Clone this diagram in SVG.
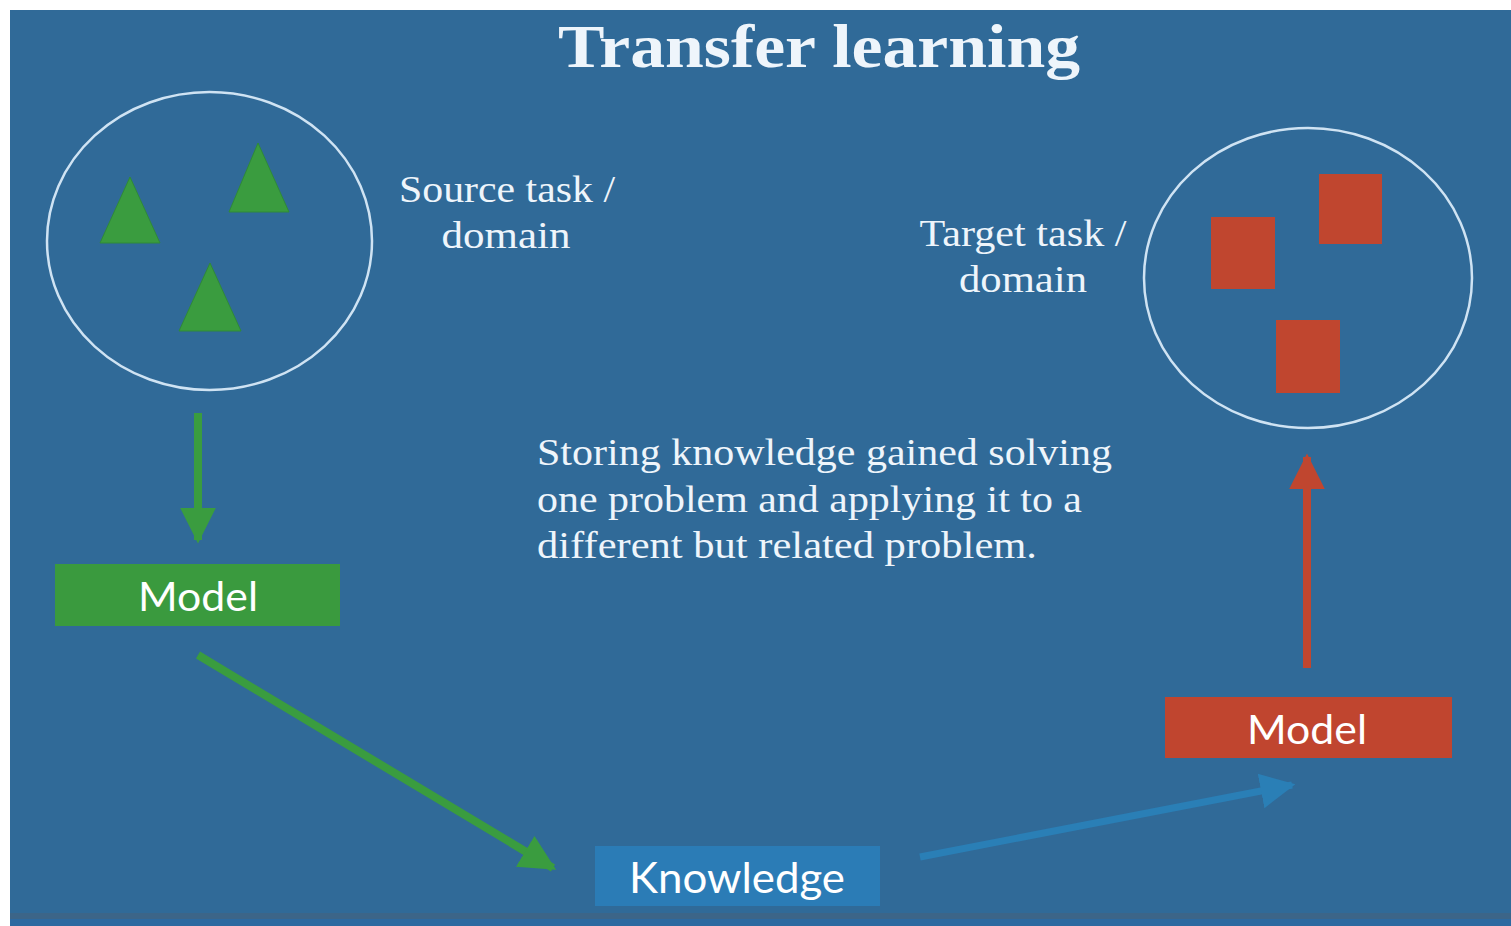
<svg xmlns="http://www.w3.org/2000/svg" width="1511" height="926" viewBox="0 0 1511 926">
<defs>
<style>
.serif{font-family:"Liberation Serif","DejaVu Serif",serif;fill:#eef5fb}
.sans{font-family:Lato,"Open Sans","Liberation Sans",sans-serif;fill:#ffffff}
.ring{fill:none;stroke:#cfe3f3;stroke-width:2.5}
.tri{fill:#3a9c3f;stroke:#2f8a38;stroke-width:1}
.sq{fill:#c0462f}
</style>
<marker id="hg" viewBox="0 0 10 10" refX="9" refY="5" markerWidth="4.5" markerHeight="5" orient="auto" markerUnits="strokeWidth"><path d="M0,0 L10,5 L0,10 Z" fill="#3a9c3f"/></marker>
<marker id="hr" viewBox="0 0 10 10" refX="9" refY="5" markerWidth="4.5" markerHeight="5" orient="auto" markerUnits="strokeWidth"><path d="M0,0 L10,5 L0,10 Z" fill="#c0462f"/></marker>
<marker id="hb" viewBox="0 0 10 10" refX="9" refY="5" markerWidth="5" markerHeight="5.5" orient="auto" markerUnits="strokeWidth"><path d="M0,0 L10,5 L0,10 Z" fill="#2a7fb6"/></marker>
</defs>
<rect x="0" y="0" width="1511" height="926" fill="#ffffff"/>
<rect x="10" y="10" width="1501" height="916" fill="#306a98"/>
<rect x="10" y="913" width="1501" height="6" fill="#3c6588"/>
<rect x="10" y="919" width="1501" height="7" fill="#2c69a0"/>

<g id="title"><text class="serif" x="819" y="67" font-size="62" font-weight="bold" text-anchor="middle" textLength="522" lengthAdjust="spacingAndGlyphs">Transfer learning</text></g>

<g id="source-domain">
<ellipse class="ring" cx="209.5" cy="241" rx="162.5" ry="149"/>
<polygon class="tri" points="130,177 160,243 100,243"/>
<polygon class="tri" points="258,143 289,212 229,212"/>
<polygon class="tri" points="210,263 241,331 179,331"/>
</g>
<g id="source-label">
<text class="serif" font-size="37" text-anchor="middle"><tspan x="507" y="202" textLength="216" lengthAdjust="spacingAndGlyphs">Source task /</tspan><tspan x="506" y="248" textLength="129" lengthAdjust="spacingAndGlyphs">domain</tspan></text>
</g>

<g id="target-domain">
<ellipse class="ring" cx="1308" cy="278" rx="164" ry="150"/>
<rect class="sq" x="1211" y="217" width="64" height="72"/>
<rect class="sq" x="1319" y="174" width="63" height="70"/>
<rect class="sq" x="1276" y="320" width="64" height="73"/>
</g>
<g id="target-label">
<text class="serif" font-size="37" text-anchor="middle"><tspan x="1023" y="246" textLength="207" lengthAdjust="spacingAndGlyphs">Target task /</tspan><tspan x="1023" y="292" textLength="128" lengthAdjust="spacingAndGlyphs">domain</tspan></text>
</g>

<g id="description">
<text class="serif" font-size="37"><tspan x="537" y="465" textLength="575" lengthAdjust="spacingAndGlyphs">Storing knowledge gained solving</tspan><tspan x="537" y="512" textLength="545" lengthAdjust="spacingAndGlyphs">one problem and applying it to a</tspan><tspan x="537" y="558" textLength="500" lengthAdjust="spacingAndGlyphs">different but related problem.</tspan></text>
</g>

<g id="source-model">
<rect x="55" y="564" width="285" height="62" fill="#3a9a3e"/>
<text class="sans" x="198" y="611" font-size="40" text-anchor="middle" textLength="120" lengthAdjust="spacingAndGlyphs">Model</text>
</g>

<g id="target-model">
<rect x="1165" y="697" width="287" height="61" fill="#c0452f"/>
<text class="sans" x="1307" y="744" font-size="40" text-anchor="middle" textLength="120" lengthAdjust="spacingAndGlyphs">Model</text>
</g>

<g id="knowledge">
<rect x="595" y="846" width="285" height="60" fill="#2b7cb6"/>
<text class="sans" x="737" y="893" font-size="42" text-anchor="middle" textLength="216" lengthAdjust="spacingAndGlyphs">Knowledge</text>
</g>

<g id="connectors" fill="none" stroke-linecap="butt">
<line x1="198" y1="413" x2="198" y2="540" stroke="#3a9c3f" stroke-width="8" marker-end="url(#hg)"/>
<line x1="198" y1="655" x2="553" y2="868" stroke="#3a9c3f" stroke-width="8" marker-end="url(#hg)"/>
<line x1="920" y1="857" x2="1292" y2="785" stroke="#2a7fb6" stroke-width="7" marker-end="url(#hb)"/>
<line x1="1307" y1="668" x2="1307" y2="457" stroke="#c0462f" stroke-width="8" marker-end="url(#hr)"/>
</g>
</svg>
